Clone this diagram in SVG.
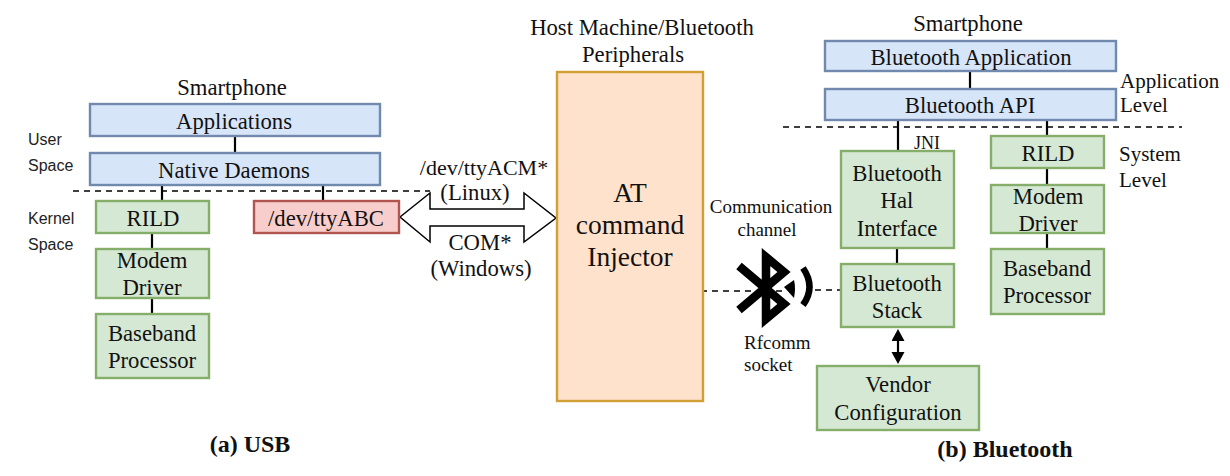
<svg xmlns="http://www.w3.org/2000/svg" width="1230" height="476" viewBox="0 0 1230 476">
<style>
text{font-family:"Liberation Serif","Times New Roman",serif;font-size:22.7px;fill:#111;text-anchor:middle}
.sm{font-size:19px}
.lv{font-size:21px;text-anchor:start}
.big{font-size:27.5px}
.sans{font-family:"Liberation Sans",Arial,sans-serif;font-size:16px;fill:#222;text-anchor:start}
.st{text-anchor:start}
.bold{font-weight:bold;font-size:24px}
.blue{fill:#d7e5f9;stroke:#7089ad;stroke-width:2.4}
.green{fill:#d5e8d4;stroke:#86ae6b;stroke-width:2.4}
.red{fill:#f8cecc;stroke:#b0554f;stroke-width:2.4}
.line{stroke:#000;stroke-width:2.2;fill:none}
.dash{stroke:#000;stroke-width:1.6;stroke-dasharray:6 5;fill:none}
</style>
<defs>
<marker id="tip" markerWidth="14" markerHeight="14" refX="1" refY="6.5" orient="auto-start-reverse" markerUnits="userSpaceOnUse"><path d="M0 0L12 6.5L0 13Z" fill="#000"/></marker>
</defs>
<rect width="1230" height="476" fill="#fff"/>
<g id="connectors">
<path class="dash" d="M73 191H430"/>
<path class="dash" d="M783 127H1182"/>
<path class="line" d="M235 136V153M162 185V201M323 185V201M152 233V249M152 298V314"/>
<path class="line" d="M970 71V89M898 120V151M1047 120V136M1047 168V185M1047 233V249M897 248V264"/>
<path class="line" d="M898 340V353" marker-start="url(#tip)" marker-end="url(#tip)"/>
<path d="M400 217L430 193V209H524V193L556 218L524 242V226H430V242Z" fill="#fff" stroke="#000" stroke-width="1.5"/>
<path class="dash" d="M701 291H770M776 291H786M815 290H842"/>
</g>
<g id="smartphone-usb-label"><text x="232" y="95">Smartphone</text></g>
<g id="user-space"><text class="sans" x="28" y="145">User</text><text class="sans" x="28" y="171">Space</text></g>
<g id="kernel-space"><text class="sans" x="28" y="224">Kernel</text><text class="sans" x="28" y="250">Space</text></g>
<g id="applications"><rect class="blue" x="90" y="104" width="290" height="32"/><text x="234" y="129">Applications</text></g>
<g id="native-daemons"><rect class="blue" x="90" y="153" width="290" height="32"/><text x="234" y="178">Native Daemons</text></g>
<g id="rild-usb"><rect class="green" x="96" y="201" width="113" height="32"/><text x="153" y="226">RILD</text></g>
<g id="modem-usb"><rect class="green" x="96" y="249" width="113" height="49"/><text x="152" y="268">Modem</text><text x="152" y="295">Driver</text></g>
<g id="baseband-usb"><rect class="green" x="96" y="314" width="113" height="64"/><text x="152" y="341">Baseband</text><text x="152" y="368">Processor</text></g>
<g id="ttyabc"><rect class="red" x="254" y="201" width="145" height="32"/><text x="326" y="226">/dev/ttyABC</text></g>
<g id="usb-labels"><text style="font-size:22px" x="484" y="175">/dev/ttyACM*</text><text x="475" y="200">(Linux)</text><text x="480" y="250">COM*</text><text x="481" y="276">(Windows)</text></g>
<g id="host-label"><text x="642" y="35">Host Machine/Bluetooth</text><text x="633" y="62">Peripherals</text></g>
<g id="injector"><rect x="557" y="72" width="146" height="329" fill="#ffe2cc" stroke="#d19f33" stroke-width="2.4"/><text class="big" x="630" y="202">AT</text><text class="big" x="630" y="234">command</text><text class="big" x="630" y="266">Injector</text></g>
<g id="channel-label"><text class="sm" x="771" y="213">Communication</text><text class="sm" x="767" y="236">channel</text></g>
<g id="bluetooth-icon"><path d="M739 266L784 304L766 319V257L784 272L739 310" fill="none" stroke="#000" stroke-width="8.5"/><path d="M784 287L794 280Q796 288 794 298Z" fill="#000"/><path d="M803 268Q816 287 803 305" fill="none" stroke="#000" stroke-width="6.5"/></g>
<g id="rfcomm-label"><text class="sm st" x="744" y="349">Rfcomm</text><text class="sm st" x="744" y="371">socket</text></g>
<g id="smartphone-bt-label"><text x="968" y="31">Smartphone</text></g>
<g id="bluetooth-application"><rect class="blue" x="825" y="41" width="291" height="30"/><text x="971" y="65">Bluetooth Application</text></g>
<g id="bluetooth-api"><rect class="blue" x="825" y="89" width="291" height="31"/><text x="970" y="113">Bluetooth API</text></g>
<g id="application-level"><text class="lv" x="1120" y="88">Application</text><text class="lv" x="1120" y="112">Level</text></g>
<g id="system-level"><text class="lv" x="1119" y="161">System</text><text class="lv" x="1119" y="187">Level</text></g>
<g id="jni-label"><text style="font-size:18px" x="927" y="149">JNI</text></g>
<g id="hal"><rect class="green" x="841" y="151" width="113" height="97"/><text x="897" y="181">Bluetooth</text><text x="897" y="208">Hal</text><text x="897" y="236">Interface</text></g>
<g id="stack"><rect class="green" x="841" y="264" width="113" height="63"/><text x="897" y="291">Bluetooth</text><text x="897" y="318">Stack</text></g>
<g id="vendor"><rect class="green" x="817" y="366" width="162" height="64"/><text x="898" y="392">Vendor</text><text x="898" y="420">Configuration</text></g>
<g id="rild-bt"><rect class="green" x="991" y="136" width="113" height="32"/><text x="1048" y="161">RILD</text></g>
<g id="modem-bt"><rect class="green" x="991" y="185" width="113" height="48"/><text x="1048" y="204">Modem</text><text x="1048" y="231">Driver</text></g>
<g id="baseband-bt"><rect class="green" x="991" y="249" width="113" height="65"/><text x="1047" y="276">Baseband</text><text x="1047" y="303">Processor</text></g>
<g id="caption-a"><text class="bold" x="250" y="452">(a) USB</text></g>
<g id="caption-b"><text class="bold" x="1005" y="457">(b) Bluetooth</text></g>
</svg>
